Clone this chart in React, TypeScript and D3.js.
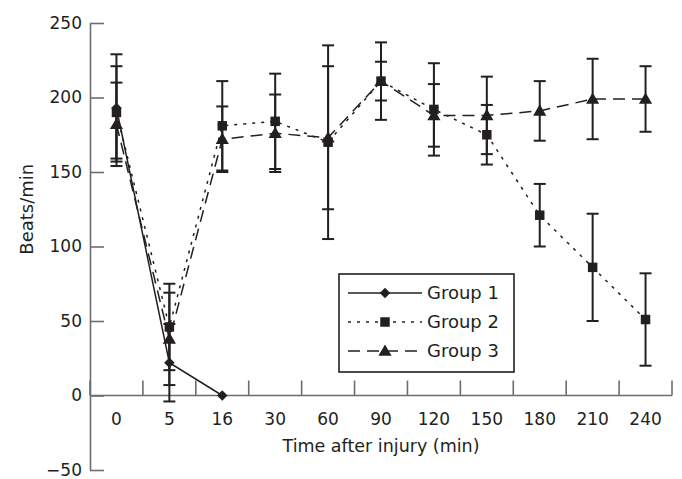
import React, { useEffect, useRef } from 'react';
import * as d3 from 'd3';

const times = ['0', '5', '16', '30', '60', '90', '120', '150', '180', '210', '240'];
const yTicks = [-50, 0, 50, 100, 150, 200, 250];

const group1 = [193, 22, 0];
const group1Err = [36, 26, 0];
const group2 = [190, 46, 181, 184, 170, 211, 192, 175, 121, 86, 51];
const group2Err = [31, 29, 30, 32, 65, 26, 31, 20, 21, 36, 31];
const group3 = [182, 38, 172, 176, 173, 211, 188, 188, 191, 199, 199];
const group3Err = [28, 31, 22, 26, 48, 13, 21, 26, 20, 27, 22];

const seriesNames = ['Group 1', 'Group 2', 'Group 3'];

const App = () => {
  const ref = useRef<SVGSVGElement>(null);

  useEffect(() => {
    const svg = d3.select(ref.current);
    svg.selectAll('*').remove();

    const width = 682;
    const height = 479;
    const font = '"DejaVu Sans", sans-serif';
    const ink = '#231f20';
    const axisColor = '#6d6d6d';

    const x = d3.scaleBand().domain(times).range([90, 672]);
    const y = d3.scaleLinear().domain([-50, 250]).range([470, 23]);
    const cx = (t: string) => (x(t) as number) + x.bandwidth() / 2;

    // y axis, ticks pointing inwards
    const yAxis = svg
      .append('g')
      .attr('transform', `translate(${x.range()[0]},0)`)
      .call(d3.axisLeft(y).tickValues(yTicks).tickSizeInner(-14).tickSizeOuter(0).tickPadding(8).tickFormat((d) => (+d < 0 ? '\u2212' + Math.abs(+d) : String(d))));
    yAxis.selectAll('path, line').attr('stroke', axisColor).attr('stroke-width', 1.6);
    yAxis.selectAll('text').attr('fill', ink).style('font-family', font).style('font-size', '17px');

    // x axis on the zero line, boundary ticks pointing up
    const x0 = x.range()[0];
    const x1 = x.range()[1];
    svg
      .append('line')
      .attr('x1', x0)
      .attr('x2', x1)
      .attr('y1', y(0))
      .attr('y2', y(0))
      .attr('stroke', axisColor)
      .attr('stroke-width', 1.6);

    const bounds = times.map((t) => (x(t) as number) + x.step()).concat([x0]);
    svg
      .append('g')
      .selectAll('line')
      .data(bounds)
      .enter()
      .append('line')
      .attr('x1', (d) => d)
      .attr('x2', (d) => d)
      .attr('y1', y(0))
      .attr('y2', y(0) - 15)
      .attr('stroke', axisColor)
      .attr('stroke-width', 1.6);

    svg
      .append('g')
      .selectAll('text')
      .data(times)
      .enter()
      .append('text')
      .attr('x', (t) => cx(t))
      .attr('y', y(0) + 29)
      .attr('text-anchor', 'middle')
      .attr('fill', ink)
      .style('font-family', font)
      .style('font-size', '17px')
      .text((t) => t);

    svg
      .append('text')
      .attr('x', (x0 + x1) / 2)
      .attr('y', y(0) + 56)
      .attr('text-anchor', 'middle')
      .attr('fill', ink)
      .style('font-family', font)
      .style('font-size', '17.5px')
      .text('Time after injury (min)');

    svg
      .append('text')
      .attr('transform', `translate(33,${y(125)}) rotate(-90)`)
      .attr('text-anchor', 'middle')
      .attr('fill', ink)
      .style('font-family', font)
      .style('font-size', '18px')
      .text('Beats/min');

    const series = [
      { values: group1, errs: group1Err, dash: null, shape: 'diamond' },
      { values: group2, errs: group2Err, dash: '3,6', shape: 'square' },
      { values: group3, errs: group3Err, dash: '12,7', shape: 'triangle' },
    ];

    const line = d3
      .line<number>()
      .x((_, i) => cx(times[i]))
      .y((v) => y(v));

    const symbolFor = (shape: string) => {
      if (shape === 'diamond') return d3.symbol().type(d3.symbolSquare).size(55)();
      if (shape === 'square') return d3.symbol().type(d3.symbolSquare).size(90)();
      return d3.symbol().type(d3.symbolTriangle).size(75)();
    };

    series.forEach((s) => {
      svg
        .append('path')
        .datum(s.values)
        .attr('d', line)
        .attr('fill', 'none')
        .attr('stroke', ink)
        .attr('stroke-width', 1.5)
        .attr('stroke-dasharray', s.dash);
    });

    // error bars
    series.forEach((s) => {
      const g = svg.append('g').attr('stroke', ink).attr('stroke-width', 2);
      s.values.forEach((v, i) => {
        const e = s.errs[i];
        if (!e) return;
        const px = cx(times[i]);
        g.append('line').attr('x1', px).attr('x2', px).attr('y1', y(v - e)).attr('y2', y(v + e));
        [v - e, v + e].forEach((c) => {
          g.append('line').attr('x1', px - 6).attr('x2', px + 6).attr('y1', y(c)).attr('y2', y(c));
        });
      });
    });

    const marker = (sel: any, shape: string) =>
      sel
        .attr('d', symbolFor(shape))
        .attr('fill', ink)
        .attr('stroke', 'none');

    series.forEach((s) => {
      svg
        .append('g')
        .selectAll('path')
        .data(s.values)
        .enter()
        .append('path')
        .call((sel: any) => marker(sel, s.shape))
        .attr('transform', (v, i) => `translate(${cx(times[i])},${y(v) + (s.shape === 'triangle' ? 1 : 0)})${s.shape === 'diamond' ? ' rotate(45)' : ''}`);
    });

    // legend
    const lg = svg.append('g');
    lg.append('rect')
      .attr('x', 339)
      .attr('y', 274)
      .attr('width', 175)
      .attr('height', 98)
      .attr('fill', 'white')
      .attr('stroke', ink)
      .attr('stroke-width', 1.6);

    series.forEach((s, i) => {
      const ly = 293 + i * 29;
      lg.append('line')
        .attr('x1', 348)
        .attr('x2', 422)
        .attr('y1', ly)
        .attr('y2', ly)
        .attr('stroke', ink)
        .attr('stroke-width', 1.5)
        .attr('stroke-dasharray', s.dash);
      lg.append('path')
        .call((sel: any) => marker(sel, s.shape))
        .attr('transform', `translate(385,${ly + (s.shape === 'triangle' ? 1 : 0)})${s.shape === 'diamond' ? ' rotate(45)' : ''}`);
      lg.append('text')
        .attr('x', 427)
        .attr('y', ly + 6)
        .attr('fill', ink)
        .style('font-family', font)
        .style('font-size', '18px')
        .text(seriesNames[i]);
    });

    svg.attr('width', width).attr('height', height);
  }, []);

  return <svg ref={ref} style={{ position: 'absolute', left: 0, top: 0, background: 'white' }} />;
};

export default App;
